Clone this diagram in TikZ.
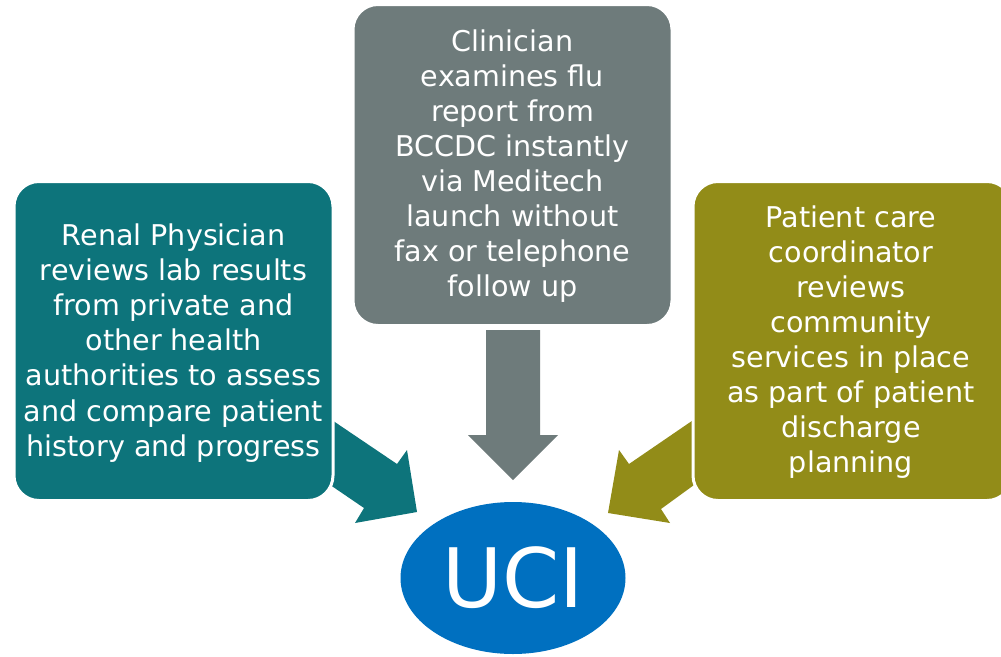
\documentclass[tikz,border=0pt]{standalone}
\usepackage{fontspec}
\setmainfont{DejaVu Sans}
\usetikzlibrary{shapes.geometric}
\definecolor{boxgray}{RGB}{110,123,123}
\definecolor{boxteal}{RGB}{13,116,123}
\definecolor{boxolive}{RGB}{146,140,24}
\definecolor{ucibl}{RGB}{0,112,192}
\begin{document}
\begin{tikzpicture}[x=1pt,y=-1pt,
  card/.style={rounded corners=25pt, draw=white, line width=3pt,
    minimum width=319pt, inner sep=0pt, text=white, align=center,
    font=\fontsize{28.6}{35.1}\selectfont}]
\useasboundingbox (0,0) rectangle (1001,656);
\clip (0,0) rectangle (1001,656);
% block arrows
\fill[boxgray] (486,330) -- (540,330) -- (540,435) -- (558,435) -- (513,480) -- (468,435) -- (486,435) -- cycle;
\fill[boxteal] (320,412) -- (397,464) -- (407,450) -- (417,512) -- (355,523) -- (364,508) -- (320,478) -- cycle;
\fill[boxolive] (705,412) -- (629,464) -- (619,450) -- (608,513) -- (670,523) -- (661,509) -- (705,477) -- cycle;
% boxes
\node[card, fill=boxgray, minimum height=321pt] (top) at (512.5,165) {};
\node[card, fill=boxteal, minimum height=319pt] (left) at (173.5,341) {};
\node[card, fill=boxolive, minimum height=319pt] (right) at (852.5,341) {};
\node[card, draw=none, fill=none, minimum width=0pt] (toptext) at (512.5,166)
  {Clinician\\examines flu\\report from\\BCCDC instantly\\via Meditech\\launch without\\fax or telephone\\follow up};
\node[card, draw=none, fill=none, minimum width=0pt] (lefttext) at (173.5,343)
  {Renal Physician\\reviews lab results\\from private and\\other health\\authorities to assess\\and compare patient\\history and progress};
\node[card, draw=none, fill=none, minimum width=0pt] (righttext) at (851,342)
  {Patient care\\coordinator\\reviews\\community\\services in place\\as part of patient\\discharge\\planning};
% ellipse
\node[ellipse, fill=ucibl, minimum width=225pt, minimum height=152pt, inner sep=0pt,
  text=white, font=\fontsize{82}{82}\selectfont] (uci) at (513,578) {UCI};
\end{tikzpicture}
\end{document}
